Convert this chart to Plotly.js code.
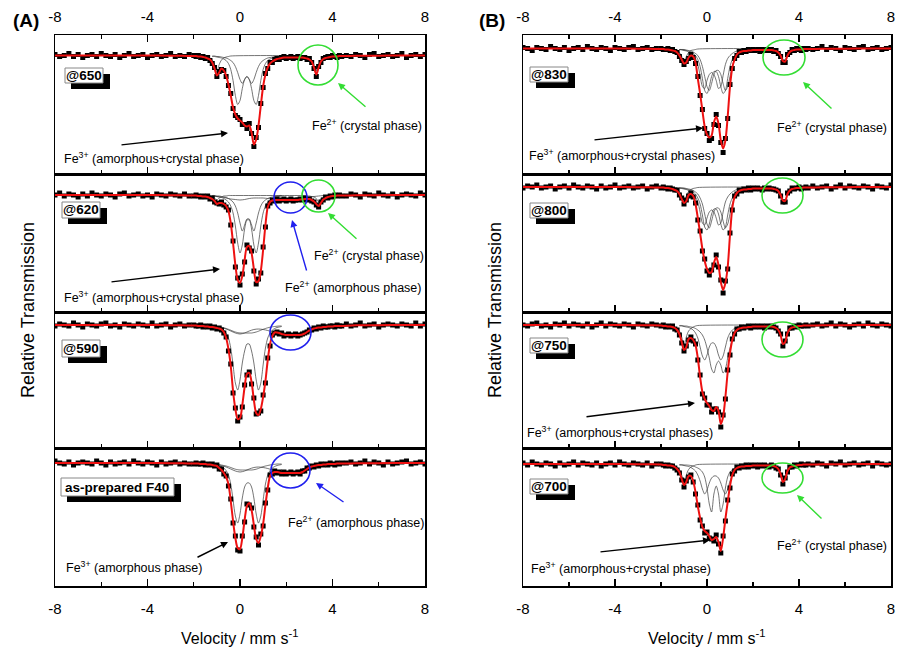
<!DOCTYPE html>
<html>
<head>
<meta charset="utf-8">
<script src="https://cdn.plot.ly/plotly-3.0.1.min.js"></script>
<style>
  html, body { margin: 0; padding: 0; background: #fff; }
  #chart { width: 907px; height: 650px; }
</style>
</head>
<body>
<div id="chart"></div>
<script>
// velocity grids, mm/s
const velLeft = [-8,-7.8,-7.6,-7.4,-7.2,-7,-6.8,-6.6,-6.4,-6.2,-6,-5.8,-5.6,-5.4,-5.2,-5,-4.8,-4.6,-4.4,-4.2,-4,-3.8,-3.6,-3.4,-3.2,-3,-2.8,-2.6,-2.4,-2.2];
const velInner = [-2,-1.9,-1.8,-1.7,-1.6,-1.5,-1.4,-1.3,-1.2,-1.1,-1,-0.9,-0.8,-0.7,-0.6,-0.5,-0.4,-0.3,-0.2,-0.1,0,0.1,0.2,0.3,0.4,0.5,0.6,0.7,0.8,0.9,1,1.1,1.2,1.3,1.4,1.5,1.6,1.7,1.8,1.9,2,2.1,2.2,2.3,2.4,2.5,2.6,2.7,2.8,2.9,3,3.1,3.2,3.3,3.4,3.5,3.6,3.7,3.8,3.9,4,4.1,4.2,4.3,4.4];
const velRight = [4.6,4.8,5,5.2,5.4,5.6,5.8,6,6.2,6.4,6.6,6.8,7,7.2,7.4,7.6,7.8,8];
const fitEdgeL = [-8,-7,-6,-5,-4,-3,-2.5];
const fitEdgeR = [5,6,7,8];
const fitBaseL = [100,100,100,100,100,99.98,99.97];
const fitBaseR = [99.97,99.98,100,100];
const velMain = [-1.2,-1.1,-1,-0.9,-0.8,-0.7,-0.6,-0.5,-0.4,-0.3,-0.2,-0.1,0,0.1,0.2,0.3,0.4,0.5,0.6,0.7,0.8,0.9,1,1.1,1.2,1.3,1.4,1.5,1.6,1.7,1.8];
const velFe2c = [-1.6,-1.5,-1.4,-1.3,-1.2,-1.1,-1,-0.9,-0.8,-0.7,-0.6,-0.5,-0.4,2.7,2.8,2.9,3,3.1,3.2,3.3,3.4,3.5,3.6,3.7,3.8,3.9];
const velFe2a = [-1.4,-1.2,-1,-0.8,-0.6,-0.4,-0.2,0,0.2,0.4,0.6,0.8,1,1.2,1.4,1.6,1.8,2,2.2,2.4,2.6,2.8,3,3.2,3.4,3.6];

// relative transmission, % — (A) series
const obsA650L = [100.1,99.9,100,100.2,99.9,100.1,99.8,100,100.1,99.9,100.2,100,99.9,100.1,99.8,100,100.2,99.9,100,100.1,99.8,100,100.1,99.9,100,100.2,99.9,100,99.9,100.1];
const obsA650 = [100,99.9,100,99.8,99.9,99.7,99.8,99.5,99.2,98.8,97.9,98.4,98.6,98.5,97.9,97,96.2,94.7,94,93.8,93.6,93.1,93.1,92.7,93.2,92.2,90.9,91.8,92.8,95.2,96.8,98.2,98.7,99.3,99.3,99.6,99.7,99.6,99.8,99.9,99.7,99.8,99.9,99.7,99.8,99.9,99.7,99.8,99.8,99.6,99.7,99.3,98.7,97.9,98.9,99.3,99.7,99.8,99.9,99.8,100,99.9,99.8,100,99.9];
const obsA650R = [100,99.9,100.1,100,99.8,100.1,100.2,99.9,100,100.1,99.9,100,100.2,99.8,100,100.1,99.9,100.1];
const fitA650 = [99.95,99.95,99.9,99.9,99.85,99.8,99.7,99.6,99.3,98.7,98,98.3,98.7,98.5,98,97.1,96,94.8,94.1,93.7,93.5,93.3,93,92.9,93,92.3,91.1,91.6,93,95,96.9,98.1,98.8,99.2,99.4,99.55,99.65,99.7,99.75,99.8,99.8,99.8,99.8,99.8,99.8,99.8,99.8,99.8,99.75,99.7,99.6,99.4,98.8,98.1,98.8,99.4,99.65,99.75,99.8,99.85,99.9,99.9,99.9,99.95,99.95];
const compA650a = [99.9,99.9,99.85,99.8,99.75,99.65,99.5,99.2,98.6,97.5,96,95.1,95.5,96.7,97.6,97.9,97.6,96.7,95.5,95.1,96,97.5,98.6,99.2,99.5,99.65,99.75,99.8,99.85,99.9,99.9];
const compA650b = [99.95,99.95,99.9,99.9,99.85,99.8,99.75,99.65,99.5,99.3,98.9,98.3,97.6,97.2,97.6,97.9,97.6,97.2,97.6,98.3,98.9,99.3,99.5,99.65,99.75,99.8,99.85,99.9,99.9,99.95,99.95];
const fe2cA650 = [99.95,99.9,99.85,99.75,99.55,99.1,98.3,99.1,99.55,99.75,99.85,99.9,99.95,99.95,99.9,99.85,99.75,99.55,99.1,98.2,99.1,99.55,99.75,99.85,99.9,99.95];

const obsA620L = [100,100.2,99.9,100.1,100,99.8,100.1,99.9,100.2,100,99.9,100.1,100,99.8,100.1,100.2,99.9,100,100.1,99.9,100,99.8,100.1,100,99.9,100.1,100,99.9,100.1,99.9];
const obsA620 = [99.9,100,99.9,99.8,99.9,99.8,99.9,99.6,99.7,99.3,99.2,99.1,99.3,99,98.8,98.5,97,95.4,92.8,91.7,91,92.1,93.3,95,94.7,94.4,92.4,91.1,91.6,92.2,94.8,96.8,98.9,99.2,99.5,99.4,99.6,99.4,99.5,99.6,99.4,99.5,99.6,99.4,99.5,99.5,99.6,99.5,99.7,99.5,99.6,99.4,99.3,99,98.8,99.3,99.5,99.8,99.7,99.9,99.8,100,99.9,100,99.9];
const obsA620R = [99.9,100.1,100,99.8,100.1,100,99.9,100.2,100,99.9,100.1,99.8,100,100.1,100,99.9,100.2,100];
const fitA620 = [99.95,99.95,99.9,99.9,99.85,99.85,99.8,99.7,99.6,99.4,99.1,99.2,99.2,99.1,98.9,98.4,97.2,95.2,93,91.5,91.2,91.9,93.5,94.8,94.9,94.2,92.6,91.3,91.4,92.4,94.5,97,98.8,99.3,99.45,99.5,99.5,99.5,99.5,99.5,99.5,99.5,99.5,99.5,99.5,99.5,99.55,99.55,99.6,99.6,99.6,99.5,99.35,99.1,98.9,99.2,99.55,99.7,99.8,99.85,99.9,99.9,99.95,99.95,99.95];
const compA620a = [99.9,99.9,99.85,99.8,99.75,99.65,99.5,99.3,98.9,98.2,96.9,95.2,94.2,95,96.6,97.5,97.5,96.6,95,94.2,95.2,96.9,98.2,98.9,99.3,99.5,99.65,99.75,99.8,99.85,99.9];
const compA620b = [99.95,99.95,99.9,99.9,99.85,99.8,99.75,99.65,99.5,99.3,98.9,98.2,97.2,96.4,97,97.6,97.6,97,96.4,97.2,98.2,98.9,99.3,99.5,99.65,99.75,99.8,99.85,99.9,99.95,99.95];
const fe2cA620 = [99.95,99.95,99.9,99.9,99.8,99.7,99.5,99.7,99.8,99.9,99.9,99.95,99.95,99.95,99.95,99.9,99.9,99.85,99.8,99.65,99.3,99.65,99.8,99.85,99.9,99.95];
const fe2aA620 = [99.95,99.9,99.85,99.8,99.7,99.6,99.55,99.5,99.55,99.65,99.7,99.7,99.7,99.65,99.6,99.55,99.5,99.5,99.5,99.55,99.6,99.7,99.8,99.85,99.9,99.95];

const obsA590L = [99.9,100.1,100,99.9,100.2,100,99.8,100.1,100,99.9,100.1,100.2,99.9,100,99.8,100.1,100,99.9,100.1,100,99.9,100.2,99.9,100,100.1,99.8,100,100.1,99.9,100];
const obsA590 = [100,99.9,99.9,100,99.8,99.9,99.8,99.9,99.7,99.8,99.6,99.7,99.5,99.2,98.8,97.4,96.1,93.2,91.7,90.4,90.8,91.8,94,95,95.3,94.1,92.7,91.1,91.2,91.4,93,94.2,96.7,97.9,99,99.2,99.3,99.1,99.2,98.9,99,99.1,98.9,99,99.1,98.9,99,99.1,99.2,99.3,99.5,99.5,99.7,99.6,99.8,99.7,99.9,99.8,99.8,99.9,99.9,99.8,100,99.9,99.9];
const obsA590R = [100.1,99.9,100,100.2,99.9,100,100.1,99.8,100,100.1,100,99.9,100.1,100,99.9,100.2,99.9,100.1];
const fitA590 = [99.95,99.95,99.9,99.9,99.9,99.85,99.85,99.8,99.8,99.75,99.7,99.65,99.55,99.3,98.7,97.6,95.9,93.4,91.6,90.6,90.7,92,93.8,95.1,95.2,94.3,92.5,91.2,91,91.6,92.8,94.4,96.5,98.1,98.9,99.25,99.25,99.2,99.1,99.05,99,99,99,99,99,99,99,99.05,99.15,99.3,99.45,99.55,99.65,99.7,99.75,99.75,99.8,99.8,99.85,99.85,99.85,99.9,99.9,99.9,99.9];
const compA590a = [99.9,99.85,99.8,99.75,99.65,99.5,99.2,98.7,97.7,96,94.2,93.5,94.5,96.2,97.4,98.1,98.1,97.4,96.2,94.5,93.5,94.2,96,97.7,98.7,99.2,99.5,99.65,99.75,99.8,99.85];
const compA590b = [99.9,99.88,99.85,99.82,99.78,99.72,99.65,99.57,99.48,99.38,99.3,99.24,99.2,99.2,99.2,99.2,99.2,99.2,99.24,99.3,99.38,99.48,99.57,99.65,99.72,99.78,99.82,99.85,99.88,99.9,99.9];
const fe2aA590 = [99.95,99.9,99.85,99.75,99.6,99.4,99.2,99.1,99.2,99.4,99.55,99.6,99.55,99.45,99.3,99.15,99.05,99,99,99.05,99.2,99.4,99.6,99.75,99.85,99.9];

const obsF40L = [100.2,100,99.9,100.1,99.8,100,100.1,100,99.9,100.2,100,99.8,100.1,99.9,100,100.1,99.9,100.2,100,99.9,100.1,100,99.8,100.1,99.9,100,100.1,99.9,100,99.9];
const obsF40 = [99.9,100,99.9,99.9,100,99.8,99.9,99.8,99.9,99.7,99.8,99.4,99.4,98.9,98.7,97.7,96.4,94,92.7,91.3,91.2,92.7,94.1,95.9,95.8,95.5,93.6,92.6,91.8,92.9,93.7,96,97.3,98.8,98.9,99.2,99,99.1,98.9,99.1,98.9,99,99.1,98.9,99,99.1,98.9,99.2,99.2,99.5,99.5,99.7,99.6,99.8,99.7,99.9,99.8,99.9,99.8,100,99.9,99.8,100,99.9,100];
const obsF40R = [100,100.1,99.9,100,100.2,99.9,100.1,100,99.8,100.1,99.9,100,100.1,100.2,99.9,100,100.1,99.9];
const fitF40 = [99.95,99.95,99.95,99.9,99.9,99.9,99.85,99.85,99.8,99.75,99.7,99.5,99.3,99,98.6,97.9,96.2,94.2,92.5,91.5,91.4,92.5,94.3,95.7,96,95.3,93.8,92.4,92,92.7,93.9,95.8,97.5,98.7,99,99.1,99.1,99.05,99,99,99,99,99,99,99,99,99,99.1,99.25,99.4,99.55,99.65,99.7,99.75,99.8,99.8,99.85,99.85,99.9,99.9,99.9,99.9,99.95,99.95,99.95];
const compF40a = [99.9,99.85,99.8,99.75,99.65,99.5,99.25,98.8,97.9,96.3,94.7,94,94.9,96.5,97.6,98,98,97.6,96.5,94.9,94,94.7,96.3,97.9,98.8,99.25,99.5,99.65,99.75,99.8,99.85];
const compF40b = [99.9,99.9,99.87,99.84,99.8,99.75,99.7,99.63,99.55,99.46,99.38,99.33,99.3,99.3,99.3,99.3,99.3,99.3,99.33,99.38,99.46,99.55,99.63,99.7,99.75,99.8,99.84,99.87,99.9,99.9,99.9];
const fe2aF40 = [99.95,99.9,99.85,99.75,99.6,99.4,99.2,99.1,99.2,99.4,99.55,99.6,99.55,99.45,99.3,99.15,99.05,99,99,99.1,99.3,99.5,99.7,99.8,99.9,99.95];

// (B) series
const obsB830L = [100.1,100,99.8,100.1,100,99.9,100.2,100,99.9,100.1,99.8,100,100.1,99.9,100.2,100,99.9,100.1,100,99.8,100.1,100,99.9,100.1,100.2,99.9,100,100.1,99.9,100];
const obsB830 = [100,99.9,99.9,100,99.8,99.9,99.7,99.6,99.2,98.8,98.4,98.7,99,99.4,99.1,98.5,97.2,95.3,93.9,92,91.5,90.8,91,92.4,93.4,92.3,90.6,89.6,91,93,96.4,98,99,99.3,99.7,99.6,99.8,99.7,99.9,99.8,99.9,99.8,99.9,99.7,99.9,99.8,99.9,99.8,99.9,99.7,99.8,99.5,99.2,98.6,98.6,99.4,99.6,99.9,99.8,100,99.9,99.8,100,99.9,100];
const obsB830R = [99.9,100,100.2,99.9,100.1,100,99.8,100.1,100,99.9,100.1,100.2,99.9,100,100.1,99.9,100,100.1];
const fitB830 = [99.95,99.95,99.9,99.9,99.85,99.8,99.75,99.6,99.3,98.9,98.5,98.6,99.1,99.3,99.2,98.6,97,95.5,93.8,92.2,91.4,91.1,91.3,92.6,93.2,92.5,90.8,90,90.8,93.2,96.2,98.1,98.9,99.4,99.6,99.7,99.75,99.75,99.8,99.8,99.85,99.85,99.85,99.85,99.85,99.85,99.85,99.85,99.85,99.8,99.75,99.6,99.3,98.75,98.7,99.3,99.65,99.8,99.85,99.9,99.9,99.9,99.95,99.95,99.95];
const compB830a = [99.9,99.9,99.85,99.8,99.75,99.65,99.5,99.3,98.9,98.2,97,95.8,95.5,96.2,97.2,97.7,97.7,97.2,96.2,95.5,95.8,97,98.2,98.9,99.3,99.5,99.65,99.75,99.8,99.85,99.9];
const compB830b = [99.9,99.9,99.9,99.85,99.8,99.75,99.65,99.5,99.3,98.9,98.2,97.2,96.2,95.8,96.5,97.4,97.8,97.8,97.4,96.5,95.8,96.2,97.2,98.2,98.9,99.3,99.5,99.65,99.75,99.8,99.85];
const compB830c = [99.9,99.85,99.8,99.75,99.65,99.5,99.3,99,98.4,97.3,96.2,96,96.8,97.4,97.6,97.4,96.8,96,96.2,97.3,98.4,99,99.3,99.5,99.65,99.75,99.8,99.85,99.9,99.9,99.9];
const fe2cB830 = [99.95,99.9,99.85,99.8,99.6,99.2,98.6,99.2,99.6,99.8,99.85,99.9,99.95,99.95,99.9,99.85,99.8,99.7,99.5,98.9,98.9,99.5,99.7,99.85,99.9,99.95];

const obsB800L = [99.9,100.1,100,100.2,99.9,100,100.1,99.8,100,100.1,99.9,100.2,100,99.9,100.1,100,99.8,100.1,99.9,100,100.2,99.9,100,100.1,99.9,100,100.1,99.8,100,100.1];
const obsB800 = [99.9,100,99.9,99.8,99.9,99.8,99.7,99.7,99.2,98.9,98.3,98.7,99.1,99.4,99,98.4,96.7,95.6,93.6,92.8,91.6,91.2,91.7,92.2,93.2,92,90.7,89.4,90.6,91.8,95.4,97.7,99.1,99.3,99.7,99.6,99.8,99.7,99.9,99.7,99.9,99.8,99.9,99.8,99.7,99.9,99.8,99.9,99.8,99.8,99.7,99.6,99.1,98.5,98.5,99.4,99.6,99.9,99.8,99.9,100,99.8,99.9,100,99.9];
const obsB800R = [100.1,99.9,100,100.1,99.8,100,100.2,99.9,100.1,100,99.9,100.1,100,99.8,100.1,100,99.9,100.2];
const fitB800 = [99.95,99.95,99.9,99.9,99.85,99.8,99.7,99.6,99.3,98.8,98.4,98.6,99.2,99.3,99.1,98.3,96.9,95.4,93.8,92.6,91.8,91.4,91.5,92.4,93,92.2,90.5,89.7,90.4,92,95.2,97.9,99,99.4,99.6,99.7,99.75,99.75,99.8,99.8,99.85,99.85,99.85,99.85,99.85,99.85,99.85,99.85,99.85,99.8,99.75,99.6,99.2,98.65,98.6,99.3,99.65,99.8,99.85,99.9,99.9,99.9,99.95,99.95,99.95];
const compB800a = [99.9,99.9,99.85,99.8,99.75,99.65,99.5,99.3,98.9,98.3,97.2,96,95.7,96.3,97.3,97.8,97.8,97.3,96.3,95.7,96,97.2,98.3,98.9,99.3,99.5,99.65,99.75,99.8,99.85,99.9];
const compB800b = [99.9,99.9,99.9,99.85,99.8,99.75,99.65,99.5,99.3,98.9,98.3,97.3,96.3,95.9,96.6,97.5,97.9,97.9,97.5,96.6,95.9,96.3,97.3,98.3,98.9,99.3,99.5,99.65,99.75,99.8,99.85];
const compB800c = [99.9,99.85,99.8,99.75,99.65,99.5,99.3,99,98.5,97.5,96.4,96.2,96.9,97.5,97.7,97.5,96.9,96.2,96.4,97.5,98.5,99,99.3,99.5,99.65,99.75,99.8,99.85,99.9,99.9,99.9];
const fe2cB800 = [99.95,99.9,99.85,99.75,99.55,99.1,98.4,99.1,99.55,99.75,99.85,99.9,99.95,99.95,99.9,99.85,99.8,99.7,99.4,98.7,98.6,99.4,99.7,99.85,99.9,99.95];

const obsB750L = [100,99.9,100.1,100.2,99.9,100,99.8,100.1,100,100.2,99.9,100.1,100,99.9,100.1,99.8,100,100.2,99.9,100.1,100,99.9,100.1,100,99.8,100.1,100,99.9,100.1,100];
const obsB750 = [99.9,100,99.8,99.9,99.8,99.9,99.6,99.5,99,98.2,97.4,97.9,98.5,98.8,98.4,98.1,96.5,95,93.1,92.7,92,92,91.3,91.6,91.6,91.3,89.8,91,92.6,95.5,97,98.6,99.1,99.6,99.6,99.8,99.7,99.8,99.9,99.7,99.9,99.8,99.9,99.8,99.9,99.7,99.9,99.8,99.9,99.8,99.7,99.4,99.1,97.9,98.4,99.1,99.7,99.7,99.9,99.8,100,99.9,99.9,100,99.9];
const obsB750R = [100,100.1,99.9,100,100.2,99.9,100.1,100,99.8,100,100.1,99.9,100.2,100,99.9,100.1,100,99.9];
const fitB750 = [99.95,99.9,99.9,99.85,99.85,99.8,99.7,99.5,99.1,98.3,97.5,97.8,98.6,98.7,98.5,98,96.7,94.8,93.3,92.6,92.2,91.9,91.5,91.4,91.8,91.4,90.1,90.8,92.8,95.3,97.2,98.5,99.2,99.5,99.65,99.7,99.75,99.75,99.8,99.8,99.85,99.85,99.85,99.85,99.85,99.85,99.85,99.85,99.85,99.8,99.7,99.5,99,98.1,98.3,99.2,99.6,99.75,99.8,99.85,99.9,99.9,99.95,99.95,99.95];
const compB750a = [99.95,99.95,99.9,99.9,99.85,99.8,99.75,99.65,99.5,99.3,99,98.5,97.7,96.7,95.6,95.2,96,96.4,96,95.2,95.6,96.7,97.7,98.5,99,99.3,99.5,99.65,99.75,99.8,99.85];
const compB750b = [99.9,99.9,99.85,99.8,99.75,99.65,99.5,99.2,98.7,97.8,96.9,96.5,97,97.8,98.2,98.2,97.8,97,96.5,96.9,97.8,98.7,99.2,99.5,99.65,99.75,99.8,99.85,99.9,99.9,99.9];
const fe2cB750 = [99.95,99.9,99.8,99.65,99.4,98.8,97.8,98.8,99.4,99.65,99.8,99.9,99.95,99.95,99.9,99.85,99.75,99.5,99,98.2,98.6,99.4,99.7,99.85,99.9,99.95];

const obsB700L = [100.1,99.9,100.2,100,99.9,100.1,100,99.8,100.1,99.9,100,100.2,99.9,100.1,100,99.9,100.1,99.8,100,100.1,99.9,100.2,100,99.9,100.1,100,99.9,100.1,99.8,100];
const obsB700 = [100,99.9,99.8,99.9,99.8,99.8,99.6,99.4,99.1,98.4,97.7,98.3,98.7,98.9,98.2,97,95.9,94.4,93.8,93.1,93.2,92.6,92.5,92.3,92.9,92,91.1,92.8,94.3,96.4,97.6,99,99.3,99.7,99.6,99.8,99.7,99.9,99.7,99.9,99.8,99.9,99.7,99.9,99.8,99.9,99.8,99.7,99.9,99.8,99.6,99.5,98.9,98,98.6,99.2,99.7,99.7,99.9,99.8,99.9,100,99.9,99.9,100];
const obsB700R = [99.9,100.1,100,99.8,100.1,100,100.2,99.9,100,100.1,99.9,100,100.1,99.8,100.1,100,99.9,100];
const fitB700 = [99.95,99.9,99.9,99.85,99.85,99.8,99.7,99.5,99.2,98.5,97.9,98.2,98.8,98.8,98.3,97.2,95.8,94.6,93.7,93.3,93.1,92.8,92.4,92.5,92.7,92.2,91.3,92.6,94.5,96.2,97.8,98.9,99.4,99.6,99.7,99.75,99.75,99.8,99.8,99.8,99.85,99.85,99.85,99.85,99.85,99.85,99.85,99.85,99.85,99.8,99.7,99.5,99,98.2,98.5,99.3,99.65,99.75,99.8,99.85,99.9,99.9,99.95,99.95,99.95];
const compB700a = [99.93,99.92,99.9,99.9,99.88,99.85,99.8,99.7,99.6,99.45,99.2,98.7,97.6,96,95.2,97,97.8,97,95.2,96,97.6,98.7,99.2,99.45,99.6,99.7,99.8,99.85,99.88,99.9,99.92];
const compB700b = [99.9,99.9,99.85,99.8,99.75,99.65,99.5,99.3,98.9,98.3,97.5,97,97.4,98.1,98.6,98.8,98.8,98.6,98.1,97.4,97,97.5,98.3,98.9,99.3,99.5,99.65,99.75,99.8,99.85,99.9];
const fe2cB700 = [99.95,99.9,99.8,99.7,99.45,98.9,98.1,98.9,99.45,99.7,99.8,99.9,99.95,99.95,99.9,99.85,99.75,99.5,99,98.3,98.7,99.4,99.7,99.85,99.9,99.95];

const W = 907, H = 650;
const px = x => x / W;
const py = y => 1 - y / H;
const FONT = 'Liberation Sans, Arial, sans-serif';
const GREEN = '#33dd33', BLUE = '#2020ee';

const cols = [[55, 425], [523, 891]];
const rows = [[35, 174], [174, 312], [312, 448], [448, 586]];

const panels = [
  { col: 0, row: 0, base: 55.5, obs: [obsA650L, obsA650, obsA650R], fit: fitA650,
    comps: [[velMain, compA650a], [velMain, compA650b], [velFe2c, fe2cA650]] },
  { col: 0, row: 1, base: 195, obs: [obsA620L, obsA620, obsA620R], fit: fitA620,
    comps: [[velMain, compA620a], [velMain, compA620b], [velFe2c, fe2cA620], [velFe2a, fe2aA620]] },
  { col: 0, row: 2, base: 325, obs: [obsA590L, obsA590, obsA590R], fit: fitA590,
    comps: [[velMain, compA590a], [velMain, compA590b], [velFe2a, fe2aA590]] },
  { col: 0, row: 3, base: 463, obs: [obsF40L, obsF40, obsF40R], fit: fitF40,
    comps: [[velMain, compF40a], [velMain, compF40b], [velFe2a, fe2aF40]] },
  { col: 1, row: 0, base: 48.5, obs: [obsB830L, obsB830, obsB830R], fit: fitB830,
    comps: [[velMain, compB830a], [velMain, compB830b], [velMain, compB830c], [velFe2c, fe2cB830]] },
  { col: 1, row: 1, base: 187, obs: [obsB800L, obsB800, obsB800R], fit: fitB800,
    comps: [[velMain, compB800a], [velMain, compB800b], [velMain, compB800c], [velFe2c, fe2cB800]] },
  { col: 1, row: 2, base: 325, obs: [obsB750L, obsB750, obsB750R], fit: fitB750,
    comps: [[velMain, compB750a], [velMain, compB750b], [velFe2c, fe2cB750]] },
  { col: 1, row: 3, base: 464, obs: [obsB700L, obsB700, obsB700R], fit: fitB700,
    comps: [[velMain, compB700a], [velMain, compB700b], [velFe2c, fe2cB700]] },
];

const traces = [];
const layout = {
  width: W, height: H,
  margin: { l: 0, r: 0, t: 0, b: 0 },
  showlegend: false,
  paper_bgcolor: 'white', plot_bgcolor: 'white',
  font: { family: FONT, color: 'black' },
  shapes: [], annotations: [],
};

panels.forEach((p, i) => {
  const n = i === 0 ? '' : String(i + 1);
  const [top, bottom] = rows[p.row];
  const topRow = p.row === 0, bottomRow = p.row === 3;

  p.comps.forEach(([cx, cy]) => traces.push({
    type: 'scatter', mode: 'lines', x: cx, y: cy, xaxis: 'x' + n, yaxis: 'y' + n,
    line: { color: '#3a3a3a', width: 0.7, shape: 'spline', smoothing: 0.8 }, hoverinfo: 'skip',
  }));
  traces.push({
    type: 'scatter', mode: 'markers', xaxis: 'x' + n, yaxis: 'y' + n,
    x: velLeft.concat(velInner, velRight), y: p.obs[0].concat(p.obs[1], p.obs[2]),
    marker: { symbol: 'square', size: 5, color: 'black' },
  });
  traces.push({
    type: 'scatter', mode: 'lines', xaxis: 'x' + n, yaxis: 'y' + n,
    x: fitEdgeL.concat(velInner, fitEdgeR), y: fitBaseL.concat(p.fit, fitBaseR),
    line: { color: '#ee1111', width: 2, shape: 'spline', smoothing: 0.8 },
  });

  const yTop = 100 + (p.base - top) * 0.1;
  const yBot = yTop - (bottom - top) * 0.1;
  layout['xaxis' + n] = {
    domain: [px(cols[p.col][0]), px(cols[p.col][1])],
    anchor: 'y' + n, range: [-8, 8],
    tickmode: 'array', tickvals: [-8, -4, 0, 4, 8], ticktext: ['-8', '-4', '0', '4', '8'],
    ticks: 'inside', ticklen: 7, tickwidth: 1.3, tickcolor: 'black',
    minor: { tickvals: [-6, -2, 2, 6], ticks: 'inside', ticklen: 4, tickwidth: 1.3, tickcolor: 'black' },
    showticklabels: topRow || bottomRow, side: topRow ? 'top' : 'bottom',
    mirror: topRow ? 'ticks' : true, ticklabelstandoff: topRow ? 6 : 8,
    tickfont: { size: 15, family: FONT },
    showline: true, linewidth: 1.5, linecolor: 'black',
    showgrid: false, zeroline: false, fixedrange: true,
  };
  layout['yaxis' + n] = {
    domain: [py(bottom), py(top)], anchor: 'x' + n, range: [yBot, yTop],
    showline: true, mirror: true, linewidth: 1.5, linecolor: 'black',
    ticks: '', showticklabels: false, showgrid: false, zeroline: false, fixedrange: true,
  };
});

function note(text, x, y, size) {
  layout.annotations.push({ text, x: px(x), y: py(y), xref: 'paper', yref: 'paper',
    xanchor: 'left', yanchor: 'middle', showarrow: false, font: { size: size || 12.5 } });
}
function label(text, x, y, size, angle) {
  layout.annotations.push({ text, x: px(x), y: py(y), xref: 'paper', yref: 'paper',
    xanchor: 'center', yanchor: 'middle', showarrow: false, textangle: angle || 0, font: { size } });
}
function arrow(x1, y1, x2, y2, color) {
  layout.annotations.push({ text: '', x: px(x2), y: py(y2), xref: 'paper', yref: 'paper',
    ax: x1 - x2, ay: y1 - y2, showarrow: true, arrowhead: 2, arrowsize: 1, arrowwidth: 1.4, arrowcolor: color });
}
function ring(x0, y0, x1, y1, color) {
  layout.shapes.push({ type: 'circle', xref: 'paper', yref: 'paper',
    x0: px(x0), x1: px(x1), y0: py(y1), y1: py(y0), line: { color, width: 1.6 } });
}
function tag(x0, y0, x1, y1, text) {
  layout.shapes.push({ type: 'rect', xref: 'paper', yref: 'paper', x0: px(x0 + 6), x1: px(x1 + 7),
    y0: py(y1 + 6), y1: py(y0 + 6), fillcolor: 'black', line: { width: 0 } });
  layout.shapes.push({ type: 'rect', xref: 'paper', yref: 'paper', x0: px(x0), x1: px(x1),
    y0: py(y1), y1: py(y0), fillcolor: 'white', line: { color: '#888', width: 1 } });
  layout.annotations.push({ text: '<b>' + text + '</b>', x: px((x0 + x1) / 2), y: py((y0 + y1) / 2),
    xref: 'paper', yref: 'paper', showarrow: false, xanchor: 'center', yanchor: 'middle',
    font: { size: 13.5, family: 'Liberation Sans Narrow, Liberation Sans, Arial' } });
}

// panel tags
tag(65, 68, 103, 83, '@650');
tag(62, 202, 100, 218, '@620');
tag(62, 340, 100, 357, '@590');
tag(61, 478, 174, 496, 'as-prepared F40');
tag(530, 67, 568, 82, '@830');
tag(530, 203, 568, 218, '@800');
tag(530, 338, 568, 353, '@750');
tag(530, 479, 568, 494, '@700');

// rings
ring(298, 45, 338, 85, GREEN);
ring(274, 182, 307, 213, BLUE);
ring(302, 180, 335, 212, GREEN);
ring(270, 315, 311, 350, BLUE);
ring(271, 453, 310, 488, BLUE);
ring(763, 40, 805, 75, GREEN);
ring(762, 178, 803, 213, GREEN);
ring(762, 322, 803, 357, GREEN);
ring(762, 463, 803, 493, GREEN);

// arrows and notes, column A
arrow(120, 145, 228, 133, 'black');
note('Fe<sup>3+</sup> (amorphous+crystal phase)', 62, 158);
arrow(367, 108, 338, 83, GREEN);
note('Fe<sup>2+</sup> (crystal phase)', 310, 125);
arrow(110, 282, 220, 269, 'black');
note('Fe<sup>3+</sup> (amorphous+crystal phase)', 62, 297);
arrow(358, 240, 328, 213, GREEN);
note('Fe<sup>2+</sup> (crystal phase)', 312, 255);
arrow(307, 272, 292, 220, BLUE);
note('Fe<sup>2+</sup> (amorphous phase)', 283, 287);
arrow(345, 503, 316, 483, BLUE);
note('Fe<sup>2+</sup> (amorphous phase)', 286, 522);
arrow(196, 558, 228, 542, 'black');
note('Fe<sup>3+</sup> (amorphous phase)', 64, 567);

// column B
arrow(593, 140, 703, 128, 'black');
note('Fe<sup>3+</sup> (amorphous+crystal phases)', 527, 155);
arrow(833, 110, 803, 82, GREEN);
note('Fe<sup>2+</sup> (crystal phase)', 775, 127);
arrow(585, 417, 695, 403, 'black');
note('Fe<sup>3+</sup> (amorphous+crystal phases)', 525, 432);
arrow(599, 552, 710, 540, 'black');
note('Fe<sup>3+</sup> (amorphous+crystal phase)', 529, 568);
arrow(823, 520, 797, 495, GREEN);
note('Fe<sup>2+</sup> (crystal phase)', 775, 545);

// figure letters and axis titles
label('<b>(A)</b>', 26, 20, 19);
label('<b>(B)</b>', 492, 21, 19);
label('Relative Transmission', 28, 310, 18, -90);
label('Relative Transmission', 495, 310, 18, -90);
label('Velocity / mm s<sup>-1</sup>', 240, 637, 16);
label('Velocity / mm s<sup>-1</sup>', 707, 637, 16);

Plotly.newPlot('chart', traces, layout, { displayModeBar: false, staticPlot: true });
</script>
</body>
</html>
